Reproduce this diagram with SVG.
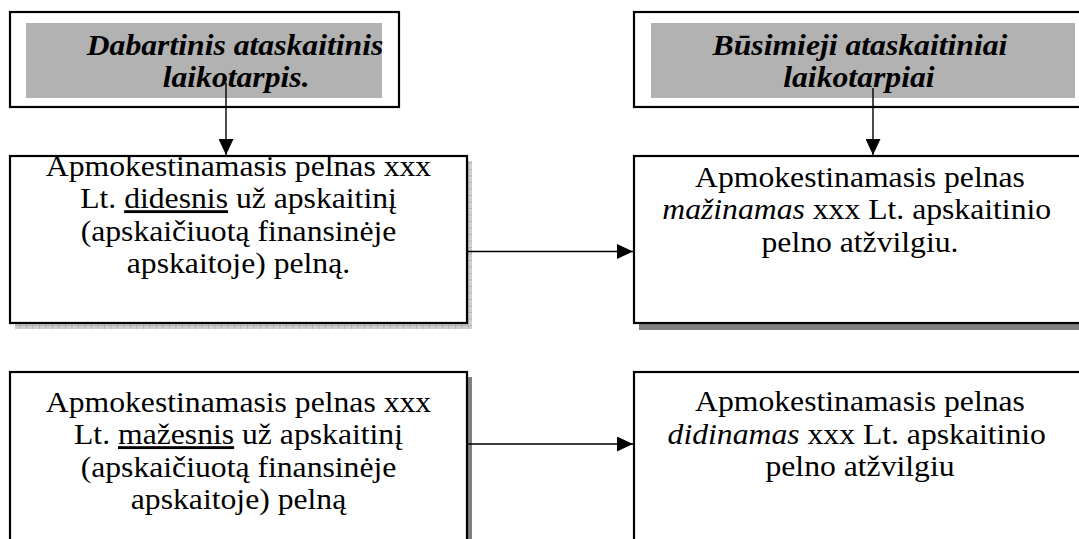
<svg xmlns="http://www.w3.org/2000/svg" width="1079" height="539" viewBox="0 0 1079 539">
  <style>
    .frame { fill: #ffffff; stroke: #000000; stroke-width: 2.2; }
    .band { fill: #b2b2b2; }
    .shade { fill: #808080; }
    .title { font-family: "Liberation Serif", "Times New Roman", serif; font-size: 28.8px; font-weight: bold; font-style: italic; fill: #000; text-anchor: middle; }
    .body { font-family: "Liberation Serif", "Times New Roman", serif; font-size: 28.8px; fill: #000; text-anchor: middle; }
    .em { font-style: italic; }
    .ul { text-decoration: underline; }
    .link { stroke: #000; stroke-width: 1.4; fill: none; marker-end: url(#head); }
  </style>
  <defs>
    <marker id="head" markerWidth="16" markerHeight="15" refX="16" refY="7.5" orient="auto" markerUnits="userSpaceOnUse">
      <path d="M0,0 L16,7.5 L0,15 Z" fill="#000"/>
    </marker>
    <pattern id="grid" width="6.5" height="6.5" patternUnits="userSpaceOnUse">
      <rect width="6.5" height="6.5" fill="#cfcfcf"/>
      <path d="M0,0 H6.5 M0,0 V6.5" stroke="#9a9a9a" stroke-width="1"/>
    </pattern>
  </defs>

  <rect width="1079" height="539" fill="#ffffff"/>

  <!-- period header: current (text slightly widened, as in the printed layout) -->
  <g id="current-period">
    <rect class="frame" x="10" y="12" width="389" height="95"/>
    <rect class="band" x="26" y="23" width="356" height="75"/>
    <g transform="matrix(1.1 0 0 1 235 0)">
      <text class="title" x="0" y="55">Dabartinis ataskaitinis</text>
      <text class="title" x="1" y="87">laikotarpis.</text>
    </g>
  </g>

  <!-- period header: future -->
  <g id="future-periods">
    <rect class="frame" x="634" y="12" width="460" height="95"/>
    <rect class="band" x="651" y="23" width="424" height="75"/>
    <g transform="matrix(1.1 0 0 1 860 0)">
      <text class="title" x="0" y="55">Būsimieji ataskaitiniai</text>
      <text class="title" x="-1" y="87">laikotarpiai</text>
    </g>
  </g>

  <!-- taxable profit higher -->
  <g id="profit-higher">
    <rect x="15" y="161" width="457" height="168" fill="url(#grid)"/>
    <rect class="frame" x="10" y="156" width="457" height="167"/>
    <g transform="matrix(1.1 0 0 1 238.5 0)">
      <text class="body" x="0" y="176">Apmokestinamasis pelnas xxx</text>
      <text class="body" x="0" y="208.3">Lt. <tspan class="ul">didesnis</tspan> už apskaitinį</text>
      <text class="body" x="0" y="240.6">(apskaičiuotą finansinėje</text>
      <text class="body" x="0" y="272.9">apskaitoje) pelną.</text>
    </g>
  </g>

  <!-- future reduction -->
  <g id="profit-reduced">
    <rect class="shade" x="639" y="161" width="460" height="169"/>
    <rect class="frame" x="634" y="156" width="460" height="167"/>
    <g transform="matrix(1.1 0 0 1 860 0)">
      <text class="body" x="0" y="187">Apmokestinamasis pelnas</text>
      <text class="body" x="-3" y="219.3"><tspan class="em">mažinamas</tspan> xxx Lt. apskaitinio</text>
      <text class="body" x="0" y="251.6">pelno atžvilgiu.</text>
    </g>
  </g>

  <!-- taxable profit lower -->
  <g id="profit-lower">
    <rect class="shade" x="15" y="377" width="457" height="180"/>
    <rect class="frame" x="10" y="372" width="457" height="180"/>
    <g transform="matrix(1.1 0 0 1 238.5 0)">
      <text class="body" x="0" y="412">Apmokestinamasis pelnas xxx</text>
      <text class="body" x="0" y="444.3">Lt. <tspan class="ul">mažesnis</tspan> už apskaitinį</text>
      <text class="body" x="0" y="476.6">(apskaičiuotą finansinėje</text>
      <text class="body" x="0" y="508.9">apskaitoje) pelną</text>
    </g>
  </g>

  <!-- future increase -->
  <g id="profit-increased">
    <rect class="frame" x="634" y="372" width="460" height="180"/>
    <g transform="matrix(1.1 0 0 1 860 0)">
      <text class="body" x="0" y="411.5">Apmokestinamasis pelnas</text>
      <text class="body" x="-3" y="443.8"><tspan class="em">didinamas</tspan> xxx Lt. apskaitinio</text>
      <text class="body" x="0" y="476.1">pelno atžvilgiu</text>
    </g>
  </g>

  <!-- connectors -->
  <g id="connectors">
    <path class="link" d="M226,83 V155"/>
    <path class="link" d="M873,88 V155"/>
    <path class="link" d="M467,251.5 H633"/>
    <path class="link" d="M467,444 H633"/>
  </g>
</svg>
